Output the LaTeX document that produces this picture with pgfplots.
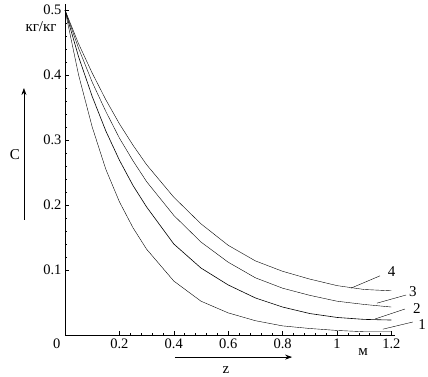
\documentclass[border=0pt]{standalone}
\usepackage{fontspec}
\setmainfont{Liberation Serif}
\usepackage{pgfplots}
\pgfplotsset{compat=1.18}
\usetikzlibrary{arrows.meta}
\begin{document}
\begin{tikzpicture}
\begin{axis}[
  x=272pt, y=650pt,
  xmin=0, xmax=1.213, ymin=0, ymax=0.51,
  axis lines=left,
  axis line style={-, line width=0.6pt},
  clip=false,
  xtick={0.2,0.4,0.6,0.8,1,1.2},
  xticklabels={0.2,0.4,0.6,0.8,1,1.2},
  ytick={0.1,0.2,0.3,0.4,0.5},
  yticklabels={0.1,0.2,0.3,0.4,0.5},
  minor tick num=4,
  tick align=inside,
  major tick length=4pt,
  minor tick length=2pt,
  tick style={line width=0.4pt, black},
  /pgf/number format/assume math mode=true,
  ticklabel style={font=\fontsize{14.5}{14.5}\selectfont},
  cycle list={{black, line width=0.6pt, no markers}},
]
\addplot coordinates {(0,0.5) (0.05,0.40) (0.1,0.32) (0.15,0.255) (0.2,0.205) (0.25,0.165) (0.3,0.132) (0.4,0.083) (0.5,0.052) (0.6,0.034) (0.7,0.022) (0.8,0.014) (0.9,0.010) (1.0,0.007) (1.1,0.005) (1.2,0.005)};
\addplot coordinates {(0,0.5) (0.05,0.428) (0.1,0.367) (0.15,0.314) (0.2,0.269) (0.25,0.23) (0.3,0.197) (0.4,0.140) (0.5,0.103) (0.6,0.077) (0.7,0.057) (0.8,0.043) (0.9,0.033) (1.0,0.027) (1.1,0.024) (1.2,0.023)};
\addplot coordinates {(0,0.5) (0.05,0.441) (0.1,0.389) (0.15,0.344) (0.2,0.303) (0.25,0.268) (0.3,0.236) (0.4,0.184) (0.5,0.143) (0.6,0.112) (0.7,0.088) (0.8,0.072) (0.9,0.061) (1.0,0.052) (1.1,0.047) (1.2,0.043)};
\addplot coordinates {(0,0.5) (0.05,0.448) (0.1,0.403) (0.15,0.362) (0.2,0.325) (0.25,0.292) (0.3,0.262) (0.4,0.212) (0.5,0.171) (0.6,0.138) (0.7,0.114) (0.8,0.098) (0.9,0.086) (1.0,0.076) (1.1,0.070) (1.2,0.068)};
% leader lines and labels
\draw[line width=0.4pt] (axis cs:1.051,0.072) -- (axis cs:1.158,0.091);
\draw[line width=0.4pt] (axis cs:1.147,0.049) -- (axis cs:1.254,0.0615);
\draw[line width=0.4pt] (axis cs:1.14,0.0246) -- (axis cs:1.25,0.040);
\draw[line width=0.4pt] (axis cs:1.169,0.009) -- (axis cs:1.279,0.020);
\node[font=\fontsize{15}{15}\selectfont] at (axis cs:1.201,0.097) {4};
\node[font=\fontsize{15}{15}\selectfont] at (axis cs:1.279,0.066) {3};
\node[font=\fontsize{15}{15}\selectfont] at (axis cs:1.294,0.040) {2};
\node[font=\fontsize{15}{15}\selectfont] at (axis cs:1.313,0.016) {1};
% axis annotations
\node[font=\fontsize{15}{15}\selectfont] at (axis cs:-0.088,0.474) {кг/кг};
\node[font=\fontsize{15}{15}\selectfont] at (axis cs:-0.184,0.277) {C};
\draw[-{Stealth[length=7pt,width=5pt]}, line width=0.6pt] (axis cs:-0.151,0.177) -- (axis cs:-0.151,0.38);
\node[font=\fontsize{15}{15}\selectfont] at (axis cs:1.096,-0.026) {м};
\node[font=\fontsize{15}{15}\selectfont] at (axis cs:0.592,-0.054) {z};
\draw[-{Stealth[length=7pt,width=5pt]}, line width=0.6pt] (axis cs:0.404,-0.034) -- (axis cs:0.835,-0.034);
\node[font=\fontsize{14.5}{14.5}\selectfont] at (axis cs:-0.03,-0.013) {0};
\coordinate (bbA) at (axis cs:-0.239,0.5154);
\coordinate (bbB) at (axis cs:1.3346,-0.0631);
\end{axis}
\pgfresetboundingbox
\path[use as bounding box] (bbA) rectangle (bbB);
\end{tikzpicture}
\end{document}
